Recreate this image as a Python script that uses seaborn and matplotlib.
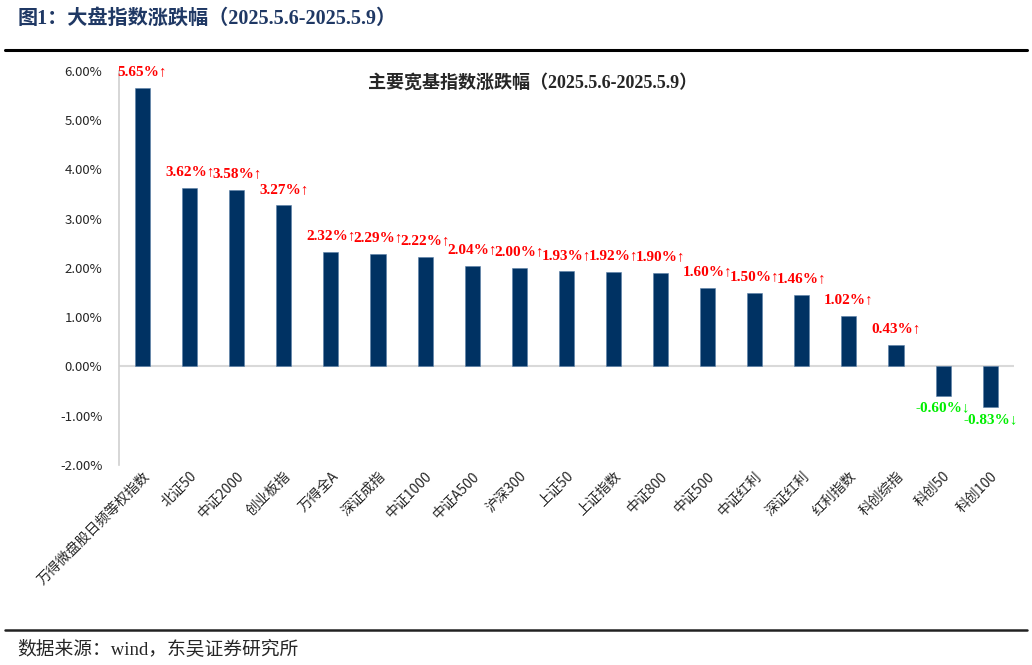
import pandas as pd
import numpy as np
import matplotlib
matplotlib.use('Agg')
import matplotlib.pyplot as plt
import seaborn as sns

# --- data ---
names = ['万得微盘股日频等权指数', '北证50', '中证2000', '创业板指', '万得全A', '深证成指',
         '中证1000', '中证A500', '沪深300', '上证50', '上证指数', '中证800', '中证500',
         '中证红利', '深证红利', '红利指数', '科创综指', '科创50', '科创100']
pct = [5.65, 3.62, 3.58, 3.27, 2.32, 2.29, 2.22, 2.04, 2.00, 1.93, 1.92, 1.90,
       1.60, 1.50, 1.46, 1.02, 0.43, -0.60, -0.83]
yticks = [-2, -1, 0, 1, 2, 3, 4, 5, 6]

df = pd.DataFrame({'name': names, 'pct': pct})

sns.set_style('white')
plt.rcParams['font.family'] = ['Liberation Serif', 'Noto Sans CJK SC', 'DejaVu Sans']
plt.rcParams['axes.unicode_minus'] = False

fig = plt.figure(figsize=(10.32, 6.65), dpi=100)
ax = fig.add_axes([0.1153, 0.3008, 0.867, 0.5925])

sns.barplot(data=df, x='name', y='pct', color='#003263', width=0.32,
            saturation=1, ax=ax, edgecolor='#5a7fa8', linewidth=0.4)

ax.set_ylim(-2, 6)
ax.set_xlim(-0.5, len(names) - 0.5)
ax.set_yticks(yticks)
ax.set_yticklabels([f'{v:.2f}%' for v in yticks], fontsize=9.5,
                   family=['Noto Sans CJK SC'])
ax.tick_params(axis='y', length=0, pad=12)
ax.tick_params(axis='x', length=0, pad=3)
ax.set_xticks(range(len(names)))
ax.set_xticklabels(names, rotation=45, ha='right', va='top', rotation_mode='anchor',
                   fontsize=10, family=['Noto Sans CJK SC'])
ax.set_xlabel('')
ax.set_ylabel('')

for side in ['top', 'right', 'bottom']:
    ax.spines[side].set_visible(False)
ax.spines['left'].set_color('#d0d0d0')
ax.spines['left'].set_linewidth(1.2)
ax.axhline(0, color='#d9d9d9', lw=1.5, zorder=0)

# value labels
for i, v in enumerate(pct):
    if v >= 0:
        ax.annotate(f'{v:.2f}%↑', (i, v), xytext=(0, 7), textcoords='offset points',
                    ha='center', va='bottom', color='#ff0000', fontsize=11,
                    fontweight='bold')
    else:
        ax.annotate(f'{v:.2f}%↓', (i, v), xytext=(0, -4), textcoords='offset points',
                    ha='center', va='top', color='#00ee00', fontsize=11,
                    fontweight='bold')

ax.text(0.462, 0.97, '主要宽基指数涨跌幅（2025.5.6-2025.5.9）', transform=ax.transAxes,
        ha='center', va='center', fontsize=13, fontweight='bold',
        family=['Liberation Serif', 'Noto Sans CJK SC'])

# report header / footer
fig.text(0.017, 0.972, '图1：大盘指数涨跌幅（2025.5.6-2025.5.9）', ha='left', va='center',
         fontsize=14.5, fontweight='bold', color='#1f3864',
         family=['Liberation Serif', 'Noto Sans CJK SC'])
fig.add_artist(plt.Line2D([0.005, 0.995], [0.925, 0.925], color='black', lw=2.2))
fig.add_artist(plt.Line2D([0.005, 0.995], [0.053, 0.053], color='#222222', lw=1.8))
fig.text(0.017, 0.023, '数据来源：wind，东吴证券研究所', ha='left', va='center',
         fontsize=13.5, family=['Liberation Serif', 'Noto Sans CJK SC'])

fig.savefig('out.png', dpi=100)
